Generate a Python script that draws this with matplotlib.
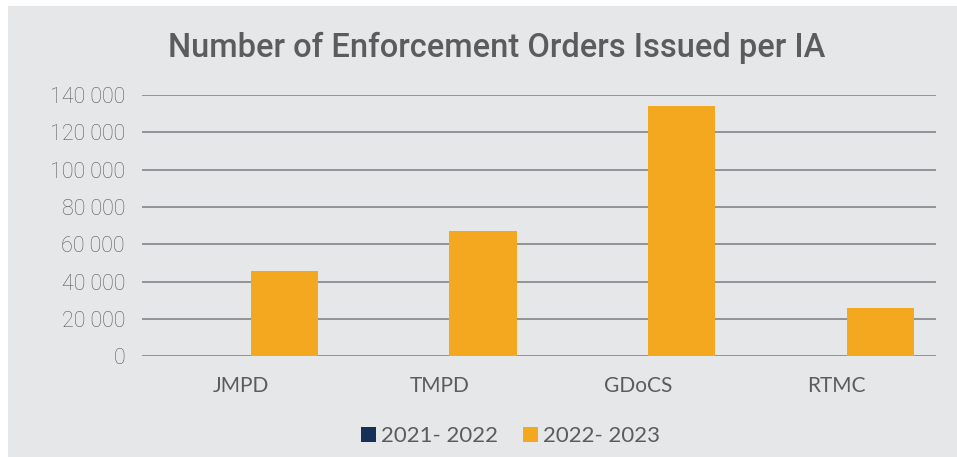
import matplotlib
matplotlib.use("Agg")
import matplotlib.pyplot as plt
from matplotlib.patches import Rectangle, Patch
from matplotlib.ticker import FuncFormatter
import numpy as np

# data
agencies = ["JMPD", "TMPD", "GDoCS", "RTMC"]
orders_2021_22 = [0, 0, 0, 0]
orders_2022_23 = [45700, 67300, 134100, 25900]
series_labels = ["2021- 2022", "2022- 2023"]

navy = "#17305a"
orange = "#f4a81f"
grey_bg = "#e6e7e8"
text_col = "#5b5c5e"
grid_col = "#8b8e91"

fig = plt.figure(figsize=(9.57, 4.57), dpi=100)
fig.patch.set_facecolor("white")
# grey panel behind the chart (thin white strip at top/left)
fig.patches.append(Rectangle((8 / 957, 0), 1 - 8 / 957, 1 - 6 / 457,
                             transform=fig.transFigure, facecolor=grey_bg,
                             edgecolor="none", zorder=-10))

ax = fig.add_axes([0.148, 0.2204, 0.830, 0.5717])
ax.set_facecolor("none")

x = np.arange(len(agencies))
w = 0.3375
off = 0.219
ax.bar(x - off, orders_2021_22, width=w, color=navy, label=series_labels[0], zorder=3)
ax.bar(x + off, orders_2022_23, width=w, color=orange, label=series_labels[1], zorder=3)

ax.set_xlim(-0.5, len(agencies) - 0.5)
ax.set_ylim(0, 140000)
ax.set_yticks(range(0, 140001, 20000))
ax.yaxis.set_major_formatter(FuncFormatter(lambda v, p: f"{int(v):,}".replace(",", " ")))
ax.set_xticks(x)
ax.set_xticklabels(agencies)

ax.grid(axis="y", color=grid_col, linewidth=1.3, zorder=0)
for s in ax.spines.values():
    s.set_visible(False)
ax.tick_params(axis="both", length=0, colors=text_col)
ax.tick_params(axis="y", pad=12)
ax.tick_params(axis="x", pad=14)
for lab in ax.get_yticklabels():
    lab.set_fontfamily("Roboto")
    lab.set_fontweight("light")
    lab.set_fontsize(15.5)
for lab in ax.get_xticklabels():
    lab.set_fontfamily("Lato")
    lab.set_fontsize(15)

fig.text(0.5195, 0.895, "Number of Enforcement Orders Issued per IA",
         ha="center", va="center", color=text_col, fontsize=23.5,
         family="Roboto", fontweight="medium")

handles = [Patch(facecolor=navy), Patch(facecolor=orange)]
fig.legend(handles, series_labels, loc="center", bbox_to_anchor=(0.533, 0.045),
           ncol=2, frameon=False, handlelength=0.68, handleheight=0.68,
           handletextpad=0.22, columnspacing=1.13,
           prop={"family": "Lato", "size": 16}, labelcolor=text_col)

fig.savefig("out.png", dpi=100)
